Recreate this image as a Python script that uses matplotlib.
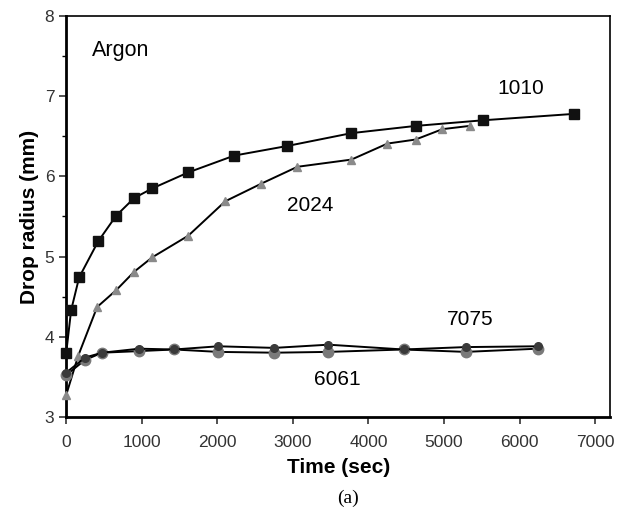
import numpy as np
import matplotlib
matplotlib.use("Agg")
import matplotlib.pyplot as plt
from matplotlib.ticker import MultipleLocator

plt.rcParams['font.family'] = ['Liberation Sans', 'DejaVu Sans']

# Alloy 1010 (squares)
t_1010 = [0, 66, 172, 424, 662, 900, 1139, 1616, 2225, 2927, 3775, 4623, 5510, 6715]
r_1010 = [3.79, 4.33, 4.74, 5.19, 5.51, 5.73, 5.85, 6.05, 6.26, 6.38, 6.54, 6.63, 6.70, 6.78]

# Alloy 2024 (triangles)
t_2024 = [0, 159, 410, 662, 900, 1139, 1616, 2106, 2583, 3060, 3775, 4252, 4623, 4980, 5338]
r_2024 = [3.27, 3.76, 4.37, 4.58, 4.81, 4.99, 5.26, 5.69, 5.91, 6.12, 6.21, 6.41, 6.46, 6.59, 6.63]

# Alloy 7075 and 6061 (circles)
t_circ = [0, 250, 477, 967, 1430, 2013, 2755, 3470, 4464, 5285, 6238]
r_7075 = [3.55, 3.74, 3.80, 3.85, 3.84, 3.88, 3.86, 3.90, 3.84, 3.87, 3.88]
r_6061 = [3.52, 3.71, 3.80, 3.82, 3.84, 3.81, 3.80, 3.81, 3.84, 3.81, 3.85]

fig = plt.figure(figsize=(6.24, 5.21), dpi=100)
ax = fig.add_axes([0.106, 0.2, 0.872, 0.769])

ax.plot(t_1010, r_1010, color='black', lw=1.4, marker='s', ms=7.5,
        mfc='#111111', mec='#111111', zorder=3, clip_on=False)
ax.plot(t_2024, r_2024, color='black', lw=1.4, marker='^', ms=5.5,
        mfc='#8a8a8a', mec='#8a8a8a', zorder=3, clip_on=False)
ax.plot(t_circ, r_6061, color='black', lw=1.4, marker='o', ms=7.5,
        mfc='#7a7a7a', mec='#7a7a7a', zorder=3, clip_on=False)
ax.plot(t_circ, r_7075, color='black', lw=1.4, marker='o', ms=5.5,
        mfc='#3a3a3a', mec='#3a3a3a', zorder=4, clip_on=False)

ax.set_xlim(0, 7200)
ax.set_ylim(3, 8)
ax.set_xticks(range(0, 7001, 1000))
ax.set_yticks(range(3, 9))
ax.yaxis.set_minor_locator(MultipleLocator(0.5))
ax.tick_params(axis='both', which='major', direction='out', length=5,
               width=1.2, labelsize=12.5, colors='#333333', labelcolor='#333333')
ax.tick_params(axis='y', which='minor', direction='out', length=3, width=1)
ax.tick_params(axis='x', pad=8)

for side in ['left', 'bottom']:
    ax.spines[side].set_linewidth(2)
for side in ['top', 'right']:
    ax.spines[side].set_linewidth(1.2)

ax.set_xlabel('Time (sec)', fontsize=15, fontweight='bold', labelpad=6)
ax.set_ylabel('Drop radius (mm)', fontsize=15, fontweight='bold', labelpad=4)

ax.text(340, 7.57, 'Argon', fontsize=15.5, va='center')
ax.text(6010, 7.1, '1010', fontsize=15, ha='center', va='center')
ax.text(3230, 5.64, '2024', fontsize=15, ha='center', va='center')
ax.text(5350, 4.22, '7075', fontsize=15, ha='center', va='center')
ax.text(3590, 3.47, '6061', fontsize=15, ha='center', va='center')

fig.text(0.558, 0.044, '(a)', fontsize=14, ha='center', va='center',
         family=['Liberation Serif', 'DejaVu Serif'])

fig.savefig('out.png', dpi=100)
